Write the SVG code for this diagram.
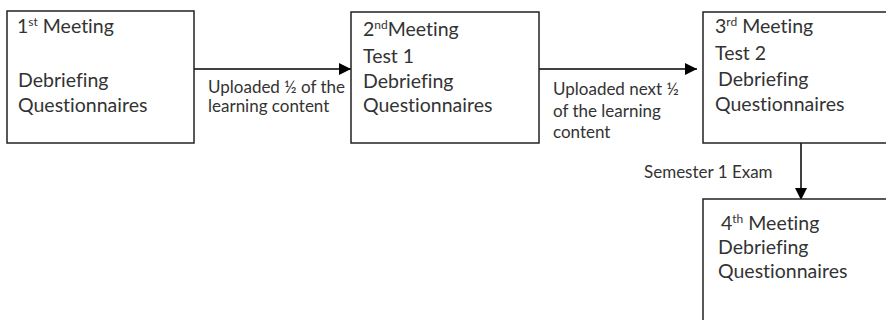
<svg xmlns="http://www.w3.org/2000/svg" width="886" height="320" viewBox="0 0 886 320">
  <defs>
    <style>
      .box { fill: #ffffff; stroke: #222222; stroke-width: 1.5; }
      .t { font-family: Lato, "Liberation Sans", sans-serif; font-size: 19.5px; fill: #333333; font-variant-ligatures: none; }
      .lbl { font-family: Lato, "Liberation Sans", sans-serif; font-size: 17px; fill: #333333; font-variant-ligatures: none; }
      .sup { font-size: 12px; }
      .conn { stroke: #000000; stroke-width: 1.5; fill: none; marker-end: url(#head); }
    </style>
    <marker id="head" viewBox="0 0 10 10" refX="10" refY="5" markerWidth="8" markerHeight="8" markerUnits="strokeWidth" orient="auto">
      <path d="M0,0 L10,5 L0,10 Z" fill="#000000"/>
    </marker>
  </defs>
  <rect width="886" height="320" fill="#ffffff"/>

  <g id="connectors">
    <line class="conn" x1="194" y1="69" x2="351" y2="69"/>
    <line class="conn" x1="539" y1="69" x2="697" y2="69"/>
    <line class="conn" x1="801" y1="143" x2="801" y2="200"/>
    <text class="lbl" x="208" y="93">Uploaded ½ of the</text>
    <text class="lbl" x="208" y="112">learning content</text>
    <text class="lbl" x="553" y="95">Uploaded next ½</text>
    <text class="lbl" x="553" y="117">of the learning</text>
    <text class="lbl" x="553" y="138">content</text>
    <text class="lbl" x="644" y="178">Semester 1 Exam</text>
  </g>

  <g id="meeting1">
    <rect class="box" x="7" y="11" width="187" height="132"/>
    <text class="t" x="17" y="33">1<tspan class="sup" dy="-7">st</tspan><tspan dy="7"> Meeting</tspan></text>
    <text class="t" x="18" y="87">Debriefing</text>
    <text class="t" x="18" y="112">Questionnaires</text>
  </g>

  <g id="meeting2">
    <rect class="box" x="351" y="12" width="188" height="131"/>
    <text class="t" x="363" y="36">2<tspan class="sup" dy="-7">nd</tspan><tspan dy="7">Meeting</tspan></text>
    <text class="t" x="363" y="63">Test 1</text>
    <text class="t" x="363" y="88">Debriefing</text>
    <text class="t" x="363" y="112">Questionnaires</text>
  </g>

  <g id="meeting3">
    <rect class="box" x="703" y="12" width="190" height="131"/>
    <text class="t" x="715" y="33">3<tspan class="sup" dy="-7">rd</tspan><tspan dy="7"> Meeting</tspan></text>
    <text class="t" x="715" y="60">Test 2</text>
    <text class="t" x="718" y="86">Debriefing</text>
    <text class="t" x="715" y="111">Questionnaires</text>
  </g>

  <g id="meeting4">
    <rect class="box" x="703" y="199" width="190" height="130"/>
    <text class="t" x="721" y="230">4<tspan class="sup" dy="-7">th</tspan><tspan dy="7"> Meeting</tspan></text>
    <text class="t" x="718" y="254">Debriefing</text>
    <text class="t" x="718" y="278">Questionnaires</text>
  </g>
</svg>
